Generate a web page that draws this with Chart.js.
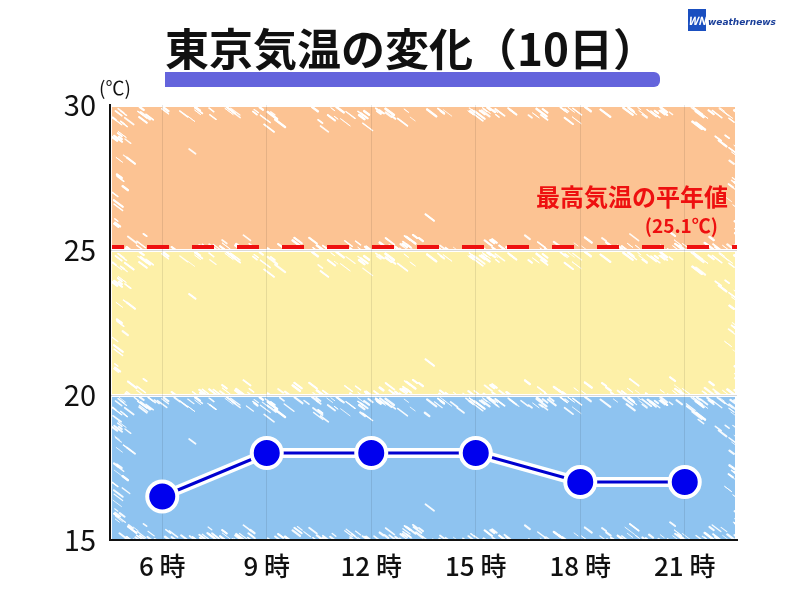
<!DOCTYPE html>
<html>
<head>
<meta charset="utf-8">
<script src="https://cdn.jsdelivr.net/npm/chart.js@4"></script>
<style>
  html, body { margin: 0; padding: 0; background: #fff; }
  #wrap { position: relative; width: 800px; height: 600px; }
</style>
</head>
<body>
<div id="wrap"><canvas id="tempChart" width="800" height="600"></canvas></div>
<script>
// ── Data ───────────────────────────────
const hours = ['6 時', '9 時', '12 時', '15 時', '18 時', '21 時'];
const temps = [16.5, 18, 18, 18, 17, 17];
const yTicks = [15, 20, 25, 30];
const bandEdges = [15, 20, 25, 30];
const bandColors = ['#8ec3f0', '#fdf0a8', '#fcc393'];
const normalHigh = 25.1;

const JP = '"Noto Sans CJK JP", "Noto Sans", sans-serif';

// fixed-seed generator for the crayon texture (decoration only)
let seed = 12345;
const lcg = () => { seed = (seed * 1103515245 + 12345) % 2147483648; return seed / 2147483648; };

function crayon(ctx, x0, y0, w, h) {
  ctx.save();
  ctx.beginPath();
  ctx.rect(x0, y0, w, h);
  ctx.clip();
  ctx.strokeStyle = 'rgba(255,255,255,0.92)';
  ctx.lineCap = 'round';
  for (let i = 0; i < 6000; i++) {
    const x = x0 + lcg() * w, y = y0 + lcg() * h;
    const d = Math.min((x - x0) * 1.3, (x0 + w - x) * 1.3, y - y0, y0 + h - y);
    if (lcg() > 0.9 * Math.exp(-d / 5)) continue;
    const len = 3 + lcg() * 7;
    ctx.lineWidth = 0.8 + lcg() * 1.6;
    ctx.beginPath();
    ctx.moveTo(x, y);
    ctx.lineTo(x + len, y + len * 0.75);
    ctx.stroke();
  }
  ctx.restore();
}

// coloured bands, faint dividers and the dashed normal line
const bandsPlugin = {
  id: 'bands',
  beforeDraw(chart) {
    const { ctx, chartArea: a, scales: { y } } = chart;
    seed = 12345;
    ctx.save();
    for (let i = 0; i < bandColors.length; i++) {
      const yb = y.getPixelForValue(bandEdges[i]);
      const yt = y.getPixelForValue(bandEdges[i + 1]);
      ctx.fillStyle = bandColors[i];
      ctx.fillRect(a.left + 2, yt + 2, a.right - a.left - 4, yb - yt - 3);
      crayon(ctx, a.left + 2, yt + 2, a.right - a.left - 4, yb - yt - 3);
    }
    ctx.restore();
  },
  beforeDatasetsDraw(chart) {
    const { ctx, chartArea: a, scales: { y } } = chart;
    const py = y.getPixelForValue(normalHigh);
    ctx.save();
    ctx.strokeStyle = '#ee1010';
    ctx.lineWidth = 4;
    ctx.setLineDash([22, 23]);
    ctx.lineDashOffset = 10;
    ctx.beginPath();
    ctx.moveTo(a.left + 2, py);
    ctx.lineTo(a.right, py);
    ctx.stroke();
    ctx.setLineDash([]);
    ctx.fillStyle = '#ee1010';
    ctx.textAlign = 'right';
    ctx.textBaseline = 'alphabetic';
    ctx.font = 'bold 24px ' + JP;
    ctx.fillText('最高気温の平年値', 728, 206);
    ctx.font = 'bold 19px ' + JP;
    ctx.fillText('(25.1℃)', 718, 233);
    ctx.restore();
  },
  afterDraw(chart) {
    const { ctx } = chart;
    ctx.save();
    // title underline bar
    ctx.fillStyle = '#6464dc';
    ctx.beginPath();
    ctx.roundRect(165, 72, 495, 15, [0, 6, 6, 0]);
    ctx.fill();
    // title
    ctx.fillStyle = '#111';
    ctx.textAlign = 'center';
    ctx.textBaseline = 'alphabetic';
    ctx.font = 'bold 44px ' + JP;
    ctx.fillText('東京気温の変化（10日）', 411, 66);
    // unit
    ctx.textAlign = 'left';
    ctx.font = '19px ' + JP;
    ctx.fillText('(℃)', 99, 95);
    // logo
    ctx.fillStyle = '#1a4fc0';
    ctx.fillRect(688, 9, 18, 22);
    ctx.fillStyle = '#fff';
    ctx.font = 'italic bold 11px ' + JP;
    ctx.fillText('WN', 688, 25);
    ctx.fillStyle = '#1a3f9a';
    ctx.font = 'italic bold 9px "DejaVu Sans", sans-serif';
    ctx.fillText('weathernews', 708, 25);
    ctx.restore();
  }
};

new Chart(document.getElementById('tempChart').getContext('2d'), {
  type: 'line',
  data: {
    labels: hours,
    datasets: [
      {
        data: temps,
        borderColor: '#0000d0', borderWidth: 3,
        pointRadius: 15, pointHoverRadius: 15,
        pointBackgroundColor: '#0000ee', pointBorderColor: '#fff', pointBorderWidth: 4,
        tension: 0, order: 1
      },
      {
        data: temps,
        borderColor: '#fff', borderWidth: 10,
        pointRadius: 0, tension: 0, order: 2
      }
    ]
  },
  options: {
    responsive: false,
    animation: false,
    layout: { padding: { left: 0, top: 105, right: 63, bottom: 0 } },
    plugins: { legend: { display: false }, tooltip: { enabled: false } },
    scales: {
      x: {
        offset: true,
        grid: { color: 'rgba(0,0,0,0.09)', drawTicks: false, offset: false },
        border: { color: '#111', width: 2 },
        ticks: { color: '#111', font: { family: JP, size: 26, weight: '500' }, padding: 11 },
        afterFit: s => { s.height = 60; }
      },
      y: {
        min: 15, max: 30,
        afterBuildTicks: s => { s.ticks = yTicks.map(v => ({ value: v })); },
        grid: {
          drawTicks: false,
          color: c => (c.tick && (c.tick.value === 20 || c.tick.value === 25)) ? 'rgba(0,0,0,0.15)' : 'rgba(0,0,0,0)'
        },
        border: { color: '#111', width: 2 },
        ticks: { color: '#111', font: { family: JP, size: 29 }, padding: 14 },
        afterFit: s => { s.width = 110; }
      }
    }
  },
  plugins: [bandsPlugin]
});
</script>
</body>
</html>
